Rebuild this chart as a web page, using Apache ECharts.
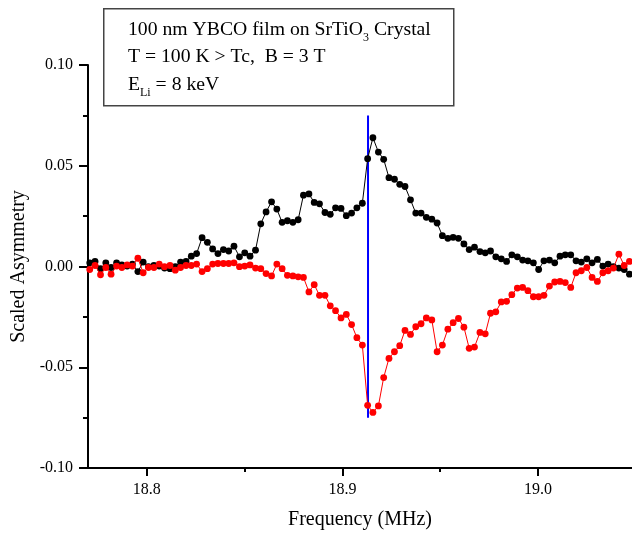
<!DOCTYPE html>
<html>
<head>
<meta charset="utf-8">
<script src="https://cdn.jsdelivr.net/npm/echarts/dist/echarts.min.js"></script>
<style>html,body{margin:0;padding:0;background:#fff;}#c{width:632px;height:535px;}</style>
</head>
<body>
<div id="c"></div>
<script>
const freq = [18.7709,18.7736,18.7764,18.7791,18.7818,18.7846,18.7873,18.7900,18.7927,18.7955,
18.7982,18.8009,18.8037,18.8064,18.8091,18.8119,18.8146,18.8173,18.8201,18.8228,
18.8255,18.8283,18.8310,18.8337,18.8364,18.8392,18.8419,18.8446,18.8474,18.8501,
18.8528,18.8556,18.8583,18.8610,18.8638,18.8665,18.8692,18.8719,18.8747,18.8774,
18.8801,18.8829,18.8856,18.8883,18.8911,18.8938,18.8965,18.8993,18.9020,18.9047,
18.9074,18.9102,18.9129,18.9156,18.9184,18.9211,18.9238,18.9266,18.9293,18.9320,
18.9348,18.9375,18.9402,18.9429,18.9457,18.9484,18.9511,18.9539,18.9566,18.9593,
18.9621,18.9648,18.9675,18.9703,18.9730,18.9757,18.9784,18.9812,18.9839,18.9866,
18.9894,18.9921,18.9948,18.9976,19.0003,19.0030,19.0058,19.0085,19.0112,19.0139,
19.0167,19.0194,19.0221,19.0249,19.0276,19.0303,19.0331,19.0358,19.0385,19.0413,
19.0440,19.0467];

const blackAsym = [0.0018,0.0025,-0.0011,0.0018,-0.0005,0.0018,0.0008,0.0002,0.0012,-0.0025,
0.0022,-0.0001,0.0005,0.0002,-0.0008,-0.0011,-0.0001,0.0022,0.0025,0.0051,
0.0064,0.0143,0.0120,0.0087,0.0064,0.0084,0.0077,0.0101,0.0048,0.0068,
0.0051,0.0081,0.0212,0.0271,0.0321,0.0285,
0.0219,0.0227,0.0219,0.0232,0.0354,0.0360,0.0318,0.0311,0.0268,0.0259,
0.0291,0.0288,0.0252,0.0265,0.0291,0.0314,0.0535,0.0639,0.0568,0.0532,
0.0441,0.0433,0.0408,0.0397,0.0331,0.0265,0.0265,0.0244,0.0235,0.0216,
0.0153,0.0140,0.0145,0.0140,0.0112,0.0084,
0.0096,0.0074,0.0068,0.0077,0.0048,0.0038,0.0025,0.0058,0.0048,0.0032,
0.0028,0.0018,-0.0015,0.0028,0.0032,0.0018,0.0051,0.0058,0.0058,0.0028,
0.0022,0.0038,0.0018,0.0035,0.0002,0.0012,-0.0001,-0.0008,-0.0015,-0.0038];

const redAsym = [-0.0015,0.0005,-0.0041,-0.0005,-0.0038,0.0002,-0.0005,0.0008,0.0002,0.0041,
-0.0031,-0.0005,-0.0005,0.0012,-0.0001,0.0005,-0.0018,-0.0005,0.0005,0.0005,
0.0012,-0.0025,-0.0011,0.0012,0.0015,0.0015,0.0015,0.0018,-0.0001,0.0002,
0.0008,-0.0008,-0.0011,-0.0035,-0.0047,0.0012,
-0.0011,-0.0044,-0.0047,-0.0051,-0.0054,-0.0126,-0.0090,-0.0143,-0.0143,-0.0195,
-0.0219,-0.0255,-0.0238,-0.0288,-0.0353,-0.0390,-0.0689,-0.0724,-0.0692,-0.0551,
-0.0456,-0.0423,-0.0393,-0.0317,-0.0337,-0.0299,-0.0284,-0.0255,-0.0265,-0.0423,
-0.0390,-0.0311,-0.0279,-0.0258,-0.0301,-0.0406,
-0.0400,-0.0327,-0.0334,-0.0232,-0.0225,-0.0176,-0.0173,-0.0140,-0.0107,-0.0104,
-0.0120,-0.0150,-0.0150,-0.0143,-0.0097,-0.0077,-0.0074,-0.0080,-0.0104,-0.0031,
-0.0021,-0.0005,-0.0054,-0.0074,-0.0031,-0.0021,-0.0008,0.0061,0.0005,0.0025];

const markerFreq = [18.9131, 18.9131];
const markerAsym = [-0.075, 0.075];

const xMajorTicks = [18.8, 18.9, 19.0];
const xMinorTicks = [18.85, 18.95];

const FONT = '"Liberation Serif", "DejaVu Serif", serif';

function pairs(xs, ys) { return xs.map((x, i) => [x, ys[i]]); }

const chart = echarts.init(document.getElementById('c'), null, {renderer: 'canvas'});
chart.setOption({
  animation: false,
  backgroundColor: '#fff',
  grid: {left: 88, right: 0, top: 65, bottom: 65, containLabel: false},
  xAxis: [{
    type: 'value', min: 18.77, max: 19.048, position: 'bottom',
    axisLine: {show: true, onZero: false, lineStyle: {color: '#000', width: 2}},
    axisTick: {show: true, customValues: xMajorTicks, length: 8, lineStyle: {color: '#000', width: 2}},
    axisLabel: {customValues: xMajorTicks, formatter: v => v.toFixed(1), color: '#000', fontFamily: FONT, fontSize: 16, margin: 14},
    splitLine: {show: false},
    name: 'Frequency (MHz)', nameLocation: 'middle', nameGap: 42,
    nameTextStyle: {color: '#000', fontFamily: FONT, fontSize: 20}
  }, {
    type: 'value', min: 18.77, max: 19.048, position: 'bottom',
    axisLine: {show: false, onZero: false},
    axisTick: {show: true, customValues: xMinorTicks, length: 4, lineStyle: {color: '#000', width: 2}},
    axisLabel: {show: false},
    splitLine: {show: false}
  }],
  yAxis: {
    type: 'value', min: -0.1, max: 0.1, interval: 0.05,
    axisLine: {show: true, onZero: false, lineStyle: {color: '#000', width: 2}},
    axisTick: {show: true, length: 9, lineStyle: {color: '#000', width: 2}},
    minorTick: {show: true, splitNumber: 2, length: 5, lineStyle: {color: '#000', width: 2}},
    axisLabel: {formatter: v => v.toFixed(2), color: '#000', fontFamily: FONT, fontSize: 16, margin: 15},
    splitLine: {show: false},
    name: 'Scaled Asymmetry', nameLocation: 'middle', nameGap: 54,
    nameTextStyle: {color: '#000', fontFamily: FONT, fontSize: 20}
  },
  series: [{
    type: 'line', data: pairs(markerFreq, markerAsym), symbol: 'none',
    lineStyle: {color: '#0000ff', width: 2}, z: 1
  }, {
    type: 'line', data: pairs(freq, blackAsym), symbol: 'circle', symbolSize: 6.8,
    itemStyle: {color: '#000'}, lineStyle: {color: '#000', width: 1}, z: 2
  }, {
    type: 'line', data: pairs(freq, redAsym), symbol: 'circle', symbolSize: 6.8,
    itemStyle: {color: '#ff0000'}, lineStyle: {color: '#ff0000', width: 1}, z: 3
  }],
  graphic: [{
    type: 'rect', left: 103, top: 8, z: 10,
    shape: {width: 350, height: 97},
    style: {fill: '#fff', stroke: '#444', lineWidth: 1.5}
  }, {
    type: 'text', left: 128, top: 16, z: 11,
    style: {
      text: '100 nm YBCO film on SrTiO{sub|3} Crystal\nT = 100 K > Tc,  B = 3 T\nE{sub|Li} = 8 keV',
      fontFamily: FONT, fontSize: 19.7, lineHeight: 27.5, fill: '#000',
      rich: {sub: {fontFamily: FONT, fontSize: 12, verticalAlign: 'bottom', fill: '#000'}}
    }
  }]
});
</script>
</body>
</html>
